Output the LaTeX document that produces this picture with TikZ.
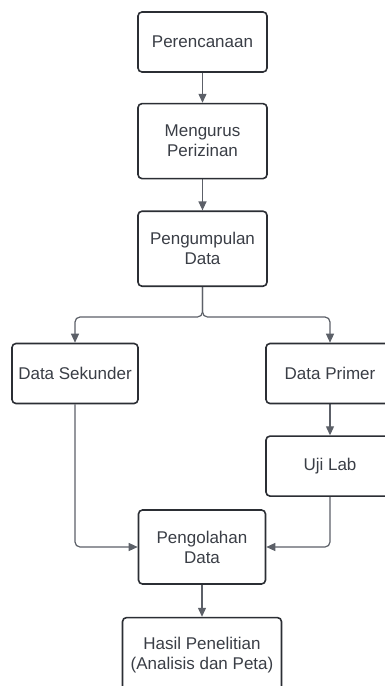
\documentclass[tikz,border=0pt]{standalone}
\usepackage{fontspec}
\setmainfont{Liberation Sans}
\usepackage{tikz}
\usetikzlibrary{positioning}
\usetikzlibrary{backgrounds}
\usetikzlibrary{arrows.meta}
\definecolor{garis}{HTML}{2B2E34}
\definecolor{teks}{HTML}{3A3E46}
\definecolor{konektor}{HTML}{5C6068}
\begin{document}
\begin{tikzpicture}[
		kotak/.style = {fill = white, draw = garis, line width = 1.6pt, rectangle, rounded corners = 4pt, text = teks, align = center, font = \fontsize{17}{20}\selectfont, inner sep = 0pt},
		panah/.style = {draw = konektor, line width = 1.2pt, -{Triangle[width = 8pt, length = 9pt]}, rounded corners = 5pt}
	]
		\useasboundingbox (0,0) rectangle (385pt,-686pt);
		\node[kotak, minimum width = 129pt, minimum height = 60pt] at (202.5pt,-42pt) (rencana) {Perencanaan};
		\node[kotak, below = 30pt of rencana, minimum width = 129pt, minimum height = 75pt] (izin) {Mengurus\\Perizinan};
		\node[kotak, below = 31pt of izin, minimum width = 129pt, minimum height = 75pt] (kumpul) {Pengumpulan\\Data};
		\node[kotak, minimum width = 126pt, minimum height = 60pt] at (75pt,-373.5pt) (sekunder) {Data Sekunder};
		\node[kotak, minimum width = 128pt, minimum height = 60pt] at (330pt,-373.5pt) (primer) {Data Primer};
		\node[kotak, below = 31pt of primer, minimum width = 128pt, minimum height = 60pt] (uji) {Uji Lab};
		\node[kotak, minimum width = 127pt, minimum height = 74pt] at (202pt,-547pt) (olah) {Pengolahan\\Data};
		\node[kotak, below = 32pt of olah, minimum width = 159pt, minimum height = 74pt] (hasil) {Hasil Penelitian\\(Analisis dan Peta)};
		\coordinate[below = 30pt of kumpul.south] (cabang);
		\begin{scope}[on background layer]
			\draw[panah] (rencana) to (izin);
			\draw[panah] (izin) to (kumpul);
			\draw[panah] (kumpul.south) -- (cabang) -| (sekunder.north);
			\draw[panah] (kumpul.south) -- (cabang) -| (primer.north);
			\draw[panah] (primer) to (uji);
			\draw[panah] (sekunder.south) |- (olah.west);
			\draw[panah] (uji.south) |- (olah.east);
			\draw[panah] (olah) to (hasil);
		\end{scope}
	\end{tikzpicture}
\end{document}
